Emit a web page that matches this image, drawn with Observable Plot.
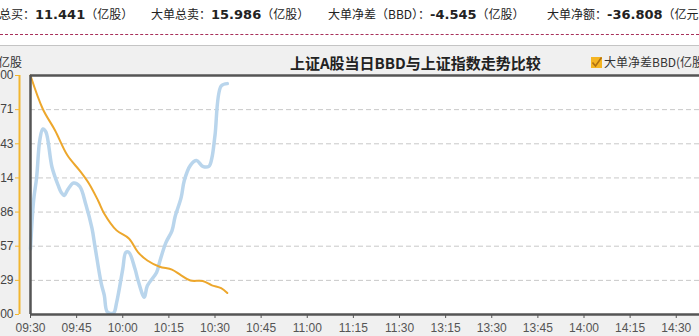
<!DOCTYPE html>
<html>
<head>
<meta charset="utf-8">
<script src="https://cdn.jsdelivr.net/npm/d3@7"></script>
<script src="https://cdn.jsdelivr.net/npm/@observablehq/plot@0.6"></script>
<style>
  html, body { margin: 0; padding: 0; }
  body { width: 699px; height: 336px; overflow: hidden; position: relative; background: #fff;
         font-family: "Noto Sans CJK SC", sans-serif; color: #222; }
  .abs { position: absolute; white-space: nowrap; line-height: 1; }
  .stat { top: 8px; font-size: 12px; }
  .num { font-family: "DejaVu Sans", sans-serif; font-weight: bold; font-size: 13px; }
  #dash { position: absolute; left: 0; top: 34px; width: 699px; border-top: 1px dashed #a8305a; }
  #sep { position: absolute; left: 0; top: 45px; width: 699px; height: 1px; background: #c4c4c4; }
  #panel { position: absolute; left: 0; top: 46px; width: 699px; height: 290px; background: #f0f0f0; }
  #chart { position: absolute; left: 0; top: 47px; }
  #title { top: 55px; left: 290px; font-size: 15px; font-weight: bold; color: #222; }
  #unit { top: 56px; left: -2px; font-size: 12px; color: #333; }
  #legend { top: 56px; left: 591px; font-size: 12px; color: #333; }
  #box { display: inline-block; width: 11px; height: 11px; background: #f5b523; vertical-align: -1px; margin-right: 2px; position: relative; }
</style>
</head>
<body>
<div id="panel"></div>
<div class="abs stat" style="left:-25px">大单总买：<span class="num">11.441</span>（亿股）</div>
<div class="abs stat" style="left:151px">大单总卖：<span class="num">15.986</span>（亿股）</div>
<div class="abs stat" style="left:328px">大单净差（BBD）：<span class="num">-4.545</span>（亿股）</div>
<div class="abs stat" style="left:547px">大单净额：<span class="num">-36.808</span>（亿元）</div>
<div id="dash"></div>
<div id="sep"></div>
<div class="abs" id="unit">亿股</div>
<div class="abs" id="title">上证A股当日BBD与上证指数走势比较</div>
<div class="abs" id="legend"><span id="box"><svg width="11" height="11" style="position:absolute;left:0;top:0"><path d="M1.5 5.5 L4.5 9 L10.5 0.5" fill="none" stroke="#b07010" stroke-width="1.6"/></svg></span>大单净差BBD(亿股)</div>
<div id="chart"></div>
<script>
// ---- data ----
// Trading-minute axis ticks (11:30 and 13:00 share a position)
const xTicks = [0, 15, 30, 45, 60, 75, 90, 105, 120, 135, 150, 165, 180, 195, 210, 225, 240];
const xTickLabels = ["09:30","09:45","10:00","10:15","10:30","10:45","11:00","11:15","11:30",
                     "13:15","13:30","13:45","14:00","14:15","14:30","14:45","15:00"];
const yTicks = [0, -0.714, -1.429, -2.143, -2.857, -3.571, -4.286, -5];

// BBD (亿股), minute offset from 09:30
const bbdMinutes = [0, 4, 8, 12, 16, 19, 22, 24, 28, 32, 35, 38, 42, 46, 49, 52, 56, 59, 62, 64];
const bbdValues  = [0.00, -0.70, -1.15, -1.67, -1.99, -2.26, -2.62, -2.89, -3.24, -3.41,
                    -3.70, -3.87, -4.00, -4.06, -4.18, -4.29, -4.30, -4.39, -4.45, -4.55];

// 上证指数 (expressed on the left-axis scale; its own axis lies off-canvas)
const idxMinutes = [0, 1, 2, 3, 4, 5, 7, 9, 10, 11, 12, 14, 16, 18, 20, 21, 23, 24, 25, 27,
                    28, 30, 31, 32, 34, 35, 37, 38, 41, 42, 44, 46, 47, 49, 50, 52, 54, 56, 58,
                    59, 60, 62, 64];
const idxValues  = [-3.63, -2.62, -2.13, -1.36, -1.12, -1.18, -1.92, -2.30, -2.45, -2.51,
                    -2.40, -2.25, -2.32, -2.70, -3.20, -3.59, -4.35, -4.60, -4.95, -4.97,
                    -4.75, -4.05, -3.70, -3.70, -4.05, -4.29, -4.64, -4.40, -4.12, -3.90,
                    -3.50, -3.25, -2.96, -2.55, -2.20, -1.88, -1.78, -1.90, -1.90,
                    -1.72, -1.25, -0.22, -0.17];

const bbd = bbdMinutes.map((m, i) => ({m, v: bbdValues[i]}));
const idx = idxMinutes.map((m, i) => ({m, v: idxValues[i]}));

const orange = "#eda72c";
const axisOrange = "#f2b630";

const chart = Plot.plot({
  width: 778, height: 289,
  marginTop: 28, marginBottom: 22, marginLeft: 30, marginRight: 10,
  style: {background: "transparent", fontFamily: "'Liberation Sans', Arial, sans-serif", fontSize: "12px", overflow: "visible"},
  x: {domain: [0, 240], axis: null},
  y: {domain: [-5, 0], axis: null},
  marks: [
    Plot.frame({fill: "white", stroke: null}),
    Plot.ruleY(yTicks.slice(1, -1), {stroke: "#c8c8c8", strokeDasharray: "5,3"}),
    Plot.line(idx, {x: "m", y: "v", stroke: "#b9d5ec", strokeWidth: 3.5, curve: "catmull-rom"}),
    Plot.line(bbd, {x: "m", y: "v", stroke: orange, strokeWidth: 2, curve: "catmull-rom"}),
    Plot.axisX({ticks: xTicks, tickFormat: d => xTickLabels[xTicks.indexOf(d)], tickSize: 4, tickPadding: 5,
                stroke: "#555", fill: "#555", label: null}),
    Plot.axisY({ticks: yTicks, tickFormat: d => d.toFixed(2), tickSize: 4, tickPadding: 2, dx: -11,
                stroke: axisOrange, fill: "#444", label: null}),
    Plot.ruleX([0], {dx: -11, stroke: axisOrange, strokeWidth: 2}),
    Plot.ruleX([0], {stroke: "#555", strokeWidth: 2.5}),
    Plot.ruleY([0], {stroke: "#555", strokeWidth: 2.5}),
    Plot.ruleY([-5], {stroke: "#555", strokeWidth: 2.5})
  ]
});
chart.style.maxWidth = "none";
document.getElementById("chart").appendChild(chart);
</script>
</body>
</html>
